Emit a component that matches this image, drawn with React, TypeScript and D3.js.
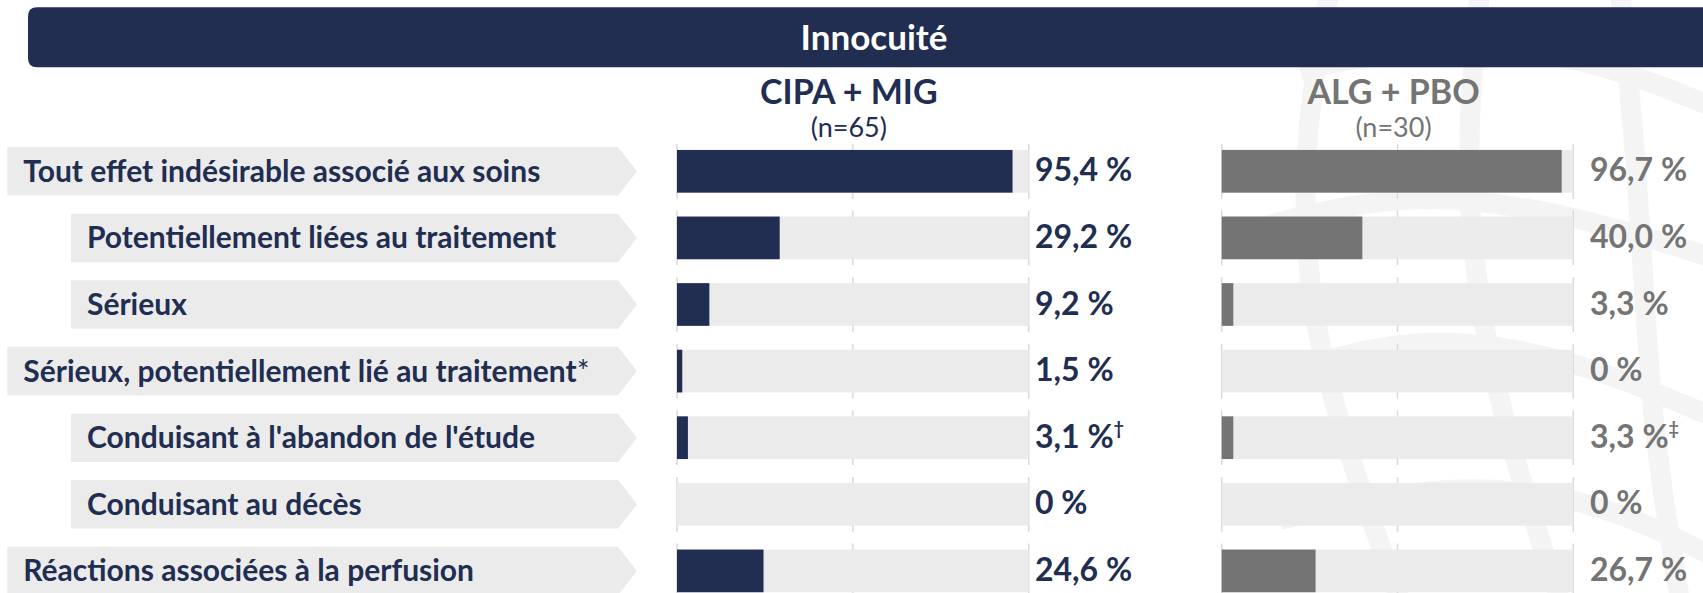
import React from "react";
import * as d3 from "d3";

const categories = [
  "Tout effet indésirable associé aux soins",
  "Potentiellement liées au traitement",
  "Sérieux",
  "Sérieux, potentiellement lié au traitement",
  "Conduisant à l'abandon de l'étude",
  "Conduisant au décès",
  "Réactions associées à la perfusion",
];
const categoryNotes = ["", "", "", "*", "", "", ""];
const levels = [0, 1, 1, 0, 1, 1, 0];
const cipaValues = [95.4, 29.2, 9.2, 1.5, 3.1, 0, 24.6];
const algValues = [96.7, 40.0, 3.3, 0, 3.3, 0, 26.7];
const cipaNotes = ["", "", "", "", "†", "", ""];
const algNotes = ["", "", "", "", "‡", "", ""];
const gridTicks = [0, 50, 100];
const title = "Innocuité";
const groups = [
  { name: "CIPA + MIG", n: "(n=65)" },
  { name: "ALG + PBO", n: "(n=30)" },
];

const W = 1703;
const H = 593;
const NAVY = "#212d51";
const GRAY = "#747474";
const TRACK = "#ebebeb";
const GRID = "#d9d9d9";
const FONT = "Lato, 'Open Sans', sans-serif";

const fmt = (v: number) =>
  v === 0 ? "0 %" : d3.format(".1f")(v).replace(".", ",") + " %";

export default function App() {
  const y = d3
    .scaleBand<string>()
    .domain(categories)
    .range([138, 138 + 66.6 * categories.length])
    .paddingInner(0.27)
    .paddingOuter(0.135);
  const boxH = 48.5;
  const barH = 42.7;

  const xL = d3.scaleLinear().domain([0, 100]).range([677, 1028.7]);
  const xR = d3.scaleLinear().domain([0, 100]).range([1221.7, 1573.3]);

  const panels = [
    { x: xL, values: cipaValues, notes: cipaNotes, color: NAVY, textColor: NAVY, valX: 1035, group: groups[0] },
    { x: xR, values: algValues, notes: algNotes, color: GRAY, textColor: GRAY, valX: 1590, group: groups[1] },
  ];

  const center = (c: string) => (y(c) as number) + y.bandwidth() / 2;

  const wm = d3.line().curve(d3.curveBasis);
  const watermark: [number, number][][] = [
    [[1330, -10], [1300, 150], [1310, 350], [1400, 600]],
    [[1480, -10], [1460, 200], [1500, 420], [1560, 600]],
    [[1620, -10], [1640, 200], [1650, 420], [1680, 600]],
    [[1250, 230], [1400, 190], [1560, 210], [1720, 260]],
    [[1260, 380], [1420, 330], [1580, 360], [1720, 420]],
    [[1300, 70], [1450, 40], [1600, 60], [1720, 110]],
    [[1280, 520], [1450, 480], [1600, 500], [1720, 560]],
  ];

  return (
    <svg
      width={W}
      height={H}
      style={{ position: "absolute", left: 0, top: 0, background: "#fff" }}
      fontFamily={FONT}
    >
      <g fill="none" stroke="#f4f4f4" strokeWidth={20}>
        {watermark.map((pts, i) => (
          <path key={i} d={wm(pts) as string} />
        ))}
      </g>

      {/* Title banner */}
      <path
        d={`M${28 + 9},7.3 H${W + 10} V67.3 H${28 + 9} Q28,67.3 28,58.3 V16.3 Q28,7.3 ${28 + 9},7.3 Z`}
        fill={NAVY}
      />
      <text x={874} y={50} textAnchor="middle" fill="#fff" fontWeight={700} fontSize={35}>
        {title}
      </text>

      {/* Group headers */}
      {panels.map((p, i) => {
        const cx = (p.x(0) + p.x(100)) / 2 - 4;
        return (
          <g key={i}>
            <text x={cx} y={104} textAnchor="middle" fill={p.textColor} fontWeight={700} fontSize={34}>
              {p.group.name}
            </text>
            <text x={cx} y={137} textAnchor="middle" fill={p.textColor} fontWeight={400} fontSize={27}>
              {p.group.n}
            </text>
          </g>
        );
      })}

      {/* Category labels */}
      {categories.map((c, i) => {
        const cy = center(c);
        const x0 = levels[i] === 0 ? 7.3 : 71;
        const x1 = 618;
        const tip = 637;
        const top = cy - boxH / 2;
        const bot = cy + boxH / 2;
        return (
          <g key={c}>
            <polygon
              points={`${x0},${top} ${x1},${top} ${tip},${cy} ${x1},${bot} ${x0},${bot}`}
              fill={TRACK}
            />
            <text x={x0 + 16} y={cy + 10.5} fill={NAVY} fontWeight={700} fontSize={30}>
              {c}
              {categoryNotes[i] && <tspan fontWeight={400}>{categoryNotes[i]}</tspan>}
            </text>
          </g>
        );
      })}

      {/* Bars */}
      {panels.map((p, pi) => (
        <g key={pi}>
          {categories.map((c, i) => {
            const cy = center(c);
            return (
              <g key={c}>
                {gridTicks.map((t) => (
                  <line
                    key={t}
                    x1={p.x(t)}
                    x2={p.x(t)}
                    y1={cy - barH / 2 - 6}
                    y2={cy + barH / 2 + 6}
                    stroke={GRID}
                    strokeWidth={1.5}
                  />
                ))}
                <rect x={p.x(0)} y={cy - barH / 2} width={p.x(100) - p.x(0)} height={barH} fill={TRACK} />
                <rect
                  x={p.x(0)}
                  y={cy - barH / 2}
                  width={p.x(p.values[i]) - p.x(0)}
                  height={barH}
                  fill={p.color}
                />
                <text x={p.valX} y={cy + 10} fill={p.textColor} fontWeight={700} fontSize={32}>
                  {fmt(p.values[i])}
                  {p.notes[i] && (
                    <tspan fontSize={18} dy={-13}>
                      {p.notes[i]}
                    </tspan>
                  )}
                </text>
              </g>
            );
          })}
        </g>
      ))}
    </svg>
  );
}
